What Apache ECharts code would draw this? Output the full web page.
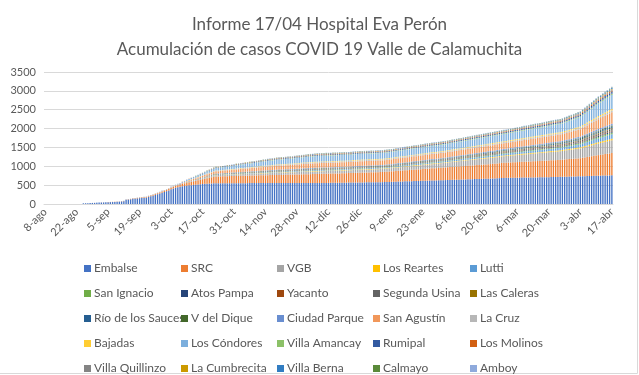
<!DOCTYPE html>
<html>
<head>
<meta charset="utf-8">
<script src="https://cdn.jsdelivr.net/npm/echarts@6/dist/echarts.min.js"></script>
<style>
  html, body { margin: 0; padding: 0; background: #fff; }
  #main { width: 639px; height: 375px; }
</style>
</head>
<body>
<div id="main"></div>
<script>
// dias desde 8-ago hasta 17-abr (253 categorias)
const months = ["ene", "feb", "mar", "abr", "may", "jun", "jul", "ago", "sep", "oct", "nov", "dic"];
const startDate = new Date(2020, 7, 8);
const dayCount = 253;
const categories = [];
for (let i = 0; i < dayCount; i++) {
  const d = new Date(startDate.getFullYear(), startDate.getMonth(), startDate.getDate() + i);
  categories.push(d.getDate() + "-" + months[d.getMonth()]);
}
const yTicks = [0, 500, 1000, 1500, 2000, 2500, 3000, 3500];

const seriesNames = ["Embalse", "SRC", "VGB", "Los Reartes", "Lutti",
  "San Ignacio", "Atos Pampa", "Yacanto", "Segunda Usina", "Las Caleras",
  "Río de los Sauces", "V del Dique", "Ciudad Parque", "San Agustín", "La Cruz",
  "Bajadas", "Los Cóndores", "Villa Amancay", "Rumipal", "Los Molinos",
  "Villa Quillinzo", "La Cumbrecita", "Villa Berna", "Calmayo", "Amboy"];

const colors = ["#4472C4", "#ED7D31", "#A5A5A5", "#FFC000", "#5B9BD5",
  "#70AD47", "#264478", "#9E480E", "#636363", "#997300",
  "#255E91", "#43682B", "#698ED0", "#F1975A", "#B7B7B7",
  "#FFCD33", "#7CAFDD", "#8CC168", "#335AA1", "#D26012",
  "#848484", "#CC9A00", "#327DC2", "#5A8A39", "#8FAADC"];

// casos acumulados por localidad, un valor por dia
const embalse = [0,0,0,0,0,0,0,0,0,0,0,0,0,0,0,0,0,
  18,20,22,25,28,30,34,38,40,42,45,48,50,52,55,58,62,68,72,
  110,118,125,132,140,148,155,160,165,170,
  190,205,220,240,260,280,300,320,340,360,
  390,410,430,445,460,
  470,478,486,494,500,506,512,520,
  526,530,535,539,542,545,548,550,
  550,550,551,551,551,552,552,552,552,553,553,553,553,554,554,554,554,555,555,555,555,555,556,556,556,556,556,556,
  556,556,557,557,557,557,557,557,557,558,558,558,558,558,558,558,558,558,
  559,559,560,560,561,561,562,562,563,564,565,566,567,568,569,570,571,572,573,574,575,576,577,577,578,578,579,580,
  582,584,586,588,590,592,594,596,598,600,602,604,606,608,610,612,614,616,618,620,622,624,625,626,628,630,
  632,634,636,638,640,642,644,646,648,650,652,654,656,658,660,662,664,666,668,670,672,674,676,678,682,686,690,
  692,693,694,695,696,697,698,699,700,701,702,703,704,705,706,707,708,709,710,711,712,714,716,717,718,720,
  722,724,725,727,729,730,732,733,735,
  737,739,740,742,744,746,748,
  750,751,753,755,756,758,760];
const src = [0,0,0,0,0,0,0,0,0,0,0,0,0,0,0,0,0,
  0,0,0,0,1,1,1,1,2,2,2,2,3,3,3,4,4,5,5,
  6,7,8,9,10,11,12,13,14,15,
  17,19,21,23,25,27,29,31,33,35,
  39,43,47,51,55,
  62,69,76,83,90,97,104,110,
  119,128,137,146,155,164,172,180,
  181,183,184,186,187,189,190,191,193,194,196,197,199,200,201,202,203,204,205,206,207,208,209,210,211,212,213,215,
  216,218,219,220,222,223,225,226,227,229,230,231,233,234,235,237,238,240,
  241,242,243,244,245,246,247,248,249,250,251,252,253,254,255,256,257,258,259,260,261,262,263,264,265,266,268,270,
  272,274,276,279,281,283,286,288,290,293,295,297,300,302,304,307,309,311,314,316,318,321,323,325,328,330,
  333,335,338,340,343,345,348,350,353,355,358,360,363,365,368,370,373,375,378,380,383,385,388,390,393,396,400,
  402,404,406,408,410,412,414,416,418,420,422,424,426,428,430,432,434,436,438,440,442,443,445,446,448,450,
  453,457,460,463,466,470,473,476,480,
  488,497,506,514,523,531,540,
  547,554,561,568,576,583,590];
const vgb = [0,0,0,0,0,0,0,0,0,0,0,0,0,0,0,0,0,
  0,0,0,0,0,0,0,0,0,0,0,0,0,0,0,0,0,0,0,
  0,0,0,1,1,1,2,2,2,3,
  3,3,3,4,4,4,4,5,5,5,
  6,6,7,7,8,
  9,10,11,12,12,13,14,15,
  17,20,22,25,27,30,32,35,
  36,37,37,38,39,39,40,41,41,42,43,43,44,45,45,46,47,48,49,50,51,52,53,54,55,56,58,60,
  60,61,61,62,62,63,63,64,64,65,65,66,66,67,67,68,69,70,
  70,70,71,71,71,72,72,72,73,73,73,74,74,74,75,75,75,76,76,76,77,77,78,78,79,79,80,80,
  81,82,84,85,87,88,90,91,93,94,96,97,99,100,102,103,105,106,108,109,111,112,114,115,117,120,
  122,124,126,128,130,132,134,136,138,140,142,144,146,148,150,152,154,155,157,159,161,163,164,166,167,168,170,
  172,174,176,179,181,183,186,188,190,193,195,197,200,202,204,207,209,211,214,216,218,221,223,225,228,230,
  233,236,239,242,246,249,252,256,260,
  265,271,276,282,288,294,300,
  306,312,317,323,329,334,340];
const losReartes = [0,0,0,0,0,0,0,0,0,0,0,0,0,0,0,0,0,0,0,0,0,0,0,0,0,0,0,0,0,0,0,0,0,0,0,0,0,0,0,0,0,0,0,0,0,0,0,0,0,0,0,0,0,0,0,0,0,0,1,1,
  1,1,1,2,2,2,2,3,3,3,3,4,4,4,4,5,5,
  5,5,5,6,6,6,6,6,7,7,7,7,7,8,8,8,8,8,8,9,9,9,9,9,10,10,10,10,
  10,10,10,10,11,11,11,11,11,11,11,11,12,12,12,12,12,12,
  12,12,12,12,12,12,12,12,12,12,12,12,12,12,13,13,13,13,13,13,13,13,13,13,13,13,13,13,
  13,13,13,13,14,14,14,14,14,14,14,15,15,15,15,15,15,15,15,16,16,16,16,16,16,16,
  16,16,16,17,17,17,17,17,17,17,18,18,18,18,18,18,18,19,19,19,19,19,19,19,20,20,20,
  20,20,21,21,21,21,22,22,22,22,23,23,23,23,24,24,24,24,25,25,25,25,25,26,26,26,
  26,27,27,28,28,29,29,30,30,
  31,32,32,33,34,34,35,
  36,37,37,38,39,39,40];
const lutti = [0,0,0,0,0,0,0,0,0,0,0,0,0,0,0,0,0,0,0,0,0,0,0,0,0,0,0,0,0,0,0,0,0,0,0,0,0,0,0,0,0,0,0,0,0,0,0,0,0,0,0,0,0,0,0,0,0,0,1,1,
  1,1,2,2,3,3,4,4,5,5,6,6,7,7,7,8,8,
  8,8,9,9,9,10,10,10,11,11,11,12,12,12,13,13,13,14,14,14,14,15,15,15,15,16,16,16,
  16,16,17,17,17,17,18,18,18,18,19,19,19,19,20,20,20,20,
  20,20,20,20,20,20,20,21,21,21,21,21,21,21,21,21,21,22,22,22,22,22,22,22,22,22,22,22,
  22,23,23,23,24,24,24,25,25,25,26,26,26,27,27,27,28,28,28,28,29,29,29,29,30,30,
  31,31,32,32,33,33,34,34,35,35,36,36,37,37,38,38,39,39,40,40,41,41,42,42,43,44,45,
  46,47,47,48,49,50,50,51,52,53,53,54,55,56,56,57,58,59,59,60,61,62,62,63,64,65,
  67,68,70,72,73,75,77,78,80,
  83,86,89,92,95,97,100,
  103,106,109,112,115,117,120];
const sanIgnacio = [0,0,0,0,0,0,0,0,0,0,0,0,0,0,0,0,0,0,0,0,0,0,0,0,0,0,0,0,0,0,0,0,0,0,0,0,0,0,0,0,0,0,0,0,0,0,0,0,0,0,0,0,0,0,0,0,0,0,0,0,
  0,0,0,1,1,1,1,1,2,2,2,2,2,2,3,3,3,
  3,3,3,3,4,4,4,4,4,4,5,5,5,5,5,5,6,6,6,6,6,6,7,7,7,7,7,7,
  7,7,7,7,7,7,7,7,7,8,8,8,8,8,8,8,8,8,
  8,8,8,8,8,8,8,8,8,8,8,8,8,8,9,9,9,9,9,9,9,9,9,9,9,9,9,9,
  9,9,9,9,9,10,10,10,10,10,10,10,11,11,11,11,11,11,11,12,12,12,12,12,12,12,
  12,12,12,13,13,13,13,13,13,14,14,14,14,14,14,15,15,15,15,15,16,16,16,16,17,17,17,
  17,17,18,18,18,18,19,19,19,19,20,20,20,20,21,21,21,22,22,22,23,23,23,24,24,24,
  24,25,25,26,26,27,27,28,28,
  29,30,31,32,32,33,34,
  35,36,37,38,38,39,40];
const atosPampa = [0,0,0,0,0,0,0,0,0,0,0,0,0,0,0,0,0,0,0,0,0,0,0,0,0,0,0,0,0,0,0,0,0,0,0,0,0,0,0,0,0,0,0,0,0,0,0,0,0,0,0,0,0,0,0,0,0,0,0,0,
  0,0,0,0,1,1,1,1,1,2,2,2,2,2,3,3,3,
  3,3,3,3,3,3,3,3,4,4,4,4,4,4,4,4,4,4,5,5,5,5,5,5,5,5,5,5,
  5,5,5,5,5,5,5,5,6,6,6,6,6,6,6,6,6,6,
  6,6,6,6,6,6,6,6,6,6,6,6,6,6,6,6,6,6,6,6,6,6,6,6,6,6,6,6,
  6,6,6,6,6,6,7,7,7,7,7,7,7,7,7,7,8,8,8,8,8,8,8,8,8,8,
  8,8,8,8,8,9,9,9,9,9,9,10,10,10,10,10,10,11,11,11,11,11,12,12,12,12,12,
  12,12,12,13,13,13,13,13,14,14,14,14,14,15,15,15,15,15,16,16,16,16,17,17,17,17,
  17,18,18,18,19,19,19,20,20,
  21,22,22,23,24,24,25,
  26,27,27,28,29,29,30];
const yacanto = [0,0,0,0,0,0,0,0,0,0,0,0,0,0,0,0,0,0,0,0,0,0,0,0,0,0,0,0,0,0,0,0,0,0,0,0,0,0,0,0,0,0,0,0,0,0,0,0,0,0,0,0,0,0,0,0,0,0,0,0,
  0,0,0,0,0,0,1,1,1,1,1,1,2,2,2,2,2,
  2,2,2,2,2,2,2,2,3,3,3,3,3,3,3,3,3,3,4,4,4,4,4,4,4,4,4,4,
  4,4,4,4,4,4,4,4,5,5,5,5,5,5,5,5,5,5,
  5,5,5,5,5,5,5,5,5,5,5,5,5,5,5,5,5,5,5,5,5,5,5,5,5,5,5,5,
  5,5,5,5,5,5,5,5,5,5,5,5,5,6,6,6,6,6,6,6,6,6,6,6,6,6,
  6,6,6,6,6,6,7,7,7,7,7,7,7,8,8,8,8,8,8,8,9,9,9,9,9,9,9,
  9,9,9,9,9,10,10,10,10,10,10,10,11,11,11,11,11,11,11,12,12,12,12,12,12,12,
  12,12,13,13,13,13,14,14,14,
  15,15,16,16,16,17,17,
  18,18,19,19,19,20,20];
const segundaUsina = [0,0,0,0,0,0,0,0,0,0,0,0,0,0,0,0,0,0,0,0,0,0,0,0,0,0,0,0,0,0,0,0,0,0,0,0,0,0,0,0,0,0,0,0,0,0,0,0,0,0,0,0,0,0,0,0,0,0,0,1,
  1,1,1,2,2,2,3,3,3,4,4,4,5,5,5,6,6,
  6,6,6,6,6,6,7,7,7,7,7,7,8,8,8,8,8,8,9,9,9,9,9,10,10,10,10,10,
  10,10,10,10,10,10,11,11,11,11,11,11,12,12,12,12,12,12,
  12,12,12,12,12,12,12,12,12,12,12,12,12,12,13,13,13,13,13,13,13,13,13,13,13,13,13,13,
  13,13,13,13,13,14,14,14,14,14,14,14,15,15,15,15,15,15,15,16,16,16,16,17,17,17,
  17,17,18,18,18,18,19,19,19,19,20,20,20,20,21,21,21,21,22,22,22,23,23,23,24,24,24,
  24,24,25,25,25,26,26,26,27,27,27,28,28,28,29,29,29,30,30,30,31,31,31,32,32,32,
  32,33,33,34,34,35,36,36,37,
  38,39,40,41,42,43,44,
  45,46,47,48,48,49,50];
const lasCaleras = [0,0,0,0,0,0,0,0,0,0,0,0,0,0,0,0,0,0,0,0,0,0,0,0,0,0,0,0,0,0,0,0,0,0,0,0,0,0,0,0,0,0,0,0,0,0,0,0,0,0,0,0,0,0,0,0,0,0,0,0,
  0,0,0,0,0,0,0,1,1,1,1,1,1,2,2,2,2,
  2,2,2,2,2,2,2,2,3,3,3,3,3,3,3,3,3,3,4,4,4,4,4,4,4,4,4,4,
  4,4,4,4,4,4,4,4,4,5,5,5,5,5,5,5,5,5,
  5,5,5,5,5,5,5,5,5,5,5,5,5,5,5,5,5,5,5,5,5,5,5,5,5,5,5,5,
  5,5,5,5,5,5,6,6,6,6,6,6,6,6,6,6,7,7,7,7,7,7,7,7,7,7,
  7,7,7,7,7,7,8,8,8,8,8,8,8,9,9,9,9,9,9,9,10,10,10,10,10,10,10,
  10,10,10,10,10,11,11,11,11,11,11,11,12,12,12,12,12,12,12,13,13,13,13,13,13,13,
  13,13,14,14,14,14,15,15,15,
  15,16,16,17,17,18,18,
  18,19,19,19,20,20,20];
const rioSauces = [0,0,0,0,0,0,0,0,0,0,0,0,0,0,0,0,0,0,0,0,0,0,0,0,0,0,0,0,0,0,0,0,0,0,0,0,0,0,0,0,0,0,0,0,0,0,0,0,0,0,0,0,0,0,0,0,0,0,0,1,
  1,1,1,1,2,2,2,2,2,3,3,3,3,3,4,4,4,
  4,4,4,4,4,4,5,5,5,5,5,5,5,5,6,6,6,6,6,6,6,6,7,7,7,7,7,7,
  7,7,7,7,7,7,7,7,7,8,8,8,8,8,8,8,8,8,
  8,8,8,8,8,8,8,8,8,8,8,8,8,8,9,9,9,9,9,9,9,9,9,9,9,9,9,9,
  9,9,9,9,9,10,10,10,10,10,10,10,11,11,11,11,11,11,11,12,12,12,12,12,12,12,
  12,12,12,13,13,13,13,14,14,14,14,15,15,15,15,16,16,16,16,17,17,17,17,18,18,18,18,
  18,18,19,19,19,20,20,20,20,21,21,21,21,22,22,22,22,23,23,23,24,24,24,25,25,25,
  25,26,26,27,28,28,29,29,30,
  31,31,32,33,33,34,35,
  36,36,37,38,38,39,40];
const vDique = [0,0,0,0,0,0,0,0,0,0,0,0,0,0,0,0,0,0,0,0,0,0,0,0,0,0,0,0,0,0,0,0,0,0,0,0,0,0,0,0,0,0,0,0,0,0,0,0,0,0,0,0,0,0,0,0,0,0,0,0,
  0,0,0,0,1,1,1,1,1,2,2,2,2,2,3,3,3,
  3,3,3,3,3,3,3,3,4,4,4,4,4,4,4,4,4,4,5,5,5,5,5,5,5,5,5,5,
  5,5,5,5,5,5,5,5,6,6,6,6,6,6,6,6,6,6,
  6,6,6,6,6,6,6,6,6,6,6,6,6,6,6,6,6,6,6,6,6,6,6,6,6,6,6,6,
  6,6,6,6,6,6,7,7,7,7,7,7,7,7,7,7,8,8,8,8,8,8,8,8,8,8,
  8,8,8,8,8,9,9,9,9,9,9,10,10,10,10,10,10,11,11,11,11,11,12,12,12,12,12,
  12,12,13,13,13,13,14,14,14,14,15,15,15,15,16,16,16,16,17,17,17,17,18,18,18,18,
  18,19,19,20,20,21,21,22,22,
  23,23,24,24,25,25,26,
  27,27,28,28,29,29,30];
const ciudadParque = [0,0,0,0,0,0,0,0,0,0,0,0,0,0,0,0,0,0,0,0,0,0,0,0,0,0,0,0,0,0,0,0,0,0,0,0,0,0,0,0,0,0,0,0,0,0,0,0,0,0,0,0,0,0,0,0,0,0,0,1,
  1,1,2,2,2,3,3,3,4,4,4,5,5,6,6,7,7,
  7,7,7,7,8,8,8,8,9,9,9,9,10,10,10,10,11,11,11,11,12,12,12,12,13,13,13,13,
  13,13,13,13,13,13,14,14,14,14,14,14,15,15,15,15,15,15,
  15,15,15,15,15,15,15,15,15,15,15,15,15,15,16,16,16,16,16,16,16,16,16,16,16,16,16,16,
  16,16,16,16,16,17,17,17,17,17,17,18,18,18,18,18,19,19,19,19,19,20,20,20,20,20,
  20,20,20,21,21,21,21,22,22,22,22,23,23,23,23,24,24,24,24,25,25,25,25,26,26,26,26,
  26,26,27,27,27,28,28,28,29,29,29,30,30,30,31,31,31,32,32,32,33,33,33,34,34,34,
  34,35,35,36,36,37,37,38,38,
  39,40,41,42,42,43,44,
  45,46,47,48,48,49,50];
const sanAgustin = [0,0,0,0,0,0,0,0,0,0,0,0,0,0,0,0,0,
  0,0,0,0,0,1,1,1,1,1,1,2,2,2,2,2,2,2,3,3,3,3,3,3,4,4,4,4,4,5,5,5,5,6,6,6,7,7,8,8,9,10,11,
  12,15,18,21,24,27,30,33,36,39,42,45,48,51,54,57,60,
  61,63,65,66,68,70,71,73,75,76,78,80,81,83,85,86,88,90,91,93,95,96,98,100,101,102,104,105,
  106,107,108,109,110,111,112,112,113,114,115,115,116,117,118,118,119,120,
  120,120,120,120,121,121,121,121,121,121,122,122,122,122,122,122,122,123,123,123,123,123,123,123,124,124,124,124,
  124,125,125,126,126,127,127,128,128,128,129,129,130,130,130,131,131,132,132,132,133,133,134,134,135,135,
  136,136,137,138,138,139,139,140,141,141,142,142,143,144,144,145,145,146,146,147,147,148,148,149,149,150,150,
  151,152,153,154,155,156,157,158,159,160,161,162,163,164,165,166,167,168,169,170,171,172,173,173,174,175,
  177,179,181,184,186,188,190,193,195,
  203,211,219,227,235,242,250,
  257,264,271,279,286,293,300];
const laCruz = [0,0,0,0,0,0,0,0,0,0,0,0,0,0,0,0,0,
  0,0,0,0,0,0,0,0,0,0,0,0,0,0,0,1,1,1,1,1,1,1,1,1,1,1,1,1,1,1,2,2,2,2,2,2,2,2,2,2,3,3,3,
  3,4,4,5,5,6,6,7,8,8,9,9,10,11,11,12,13,
  13,13,14,14,14,15,15,15,16,16,16,17,17,17,18,18,18,19,19,19,20,20,20,21,21,21,22,22,
  22,22,22,22,22,22,23,23,23,23,23,23,24,24,24,25,25,25,
  25,25,25,25,25,25,25,25,25,25,25,25,25,25,26,26,26,26,26,26,26,26,26,26,26,26,26,26,
  26,26,26,26,26,26,26,26,27,27,27,27,27,27,27,27,27,28,28,28,28,28,28,28,28,28,
  28,28,28,29,29,29,29,29,29,30,30,30,30,30,30,31,31,31,31,31,31,32,32,32,32,32,32,
  32,32,33,33,33,33,33,33,34,34,34,34,34,34,35,35,35,35,35,35,36,36,36,36,36,36,
  36,37,37,38,38,39,39,40,40,
  41,41,42,43,43,44,45,
  46,46,47,48,48,49,50];
const bajadas = [0,0,0,0,0,0,0,0,0,0,0,0,0,0,0,0,0,0,0,0,0,0,0,0,0,0,0,0,0,0,0,0,0,0,0,0,0,0,0,0,0,0,0,0,0,0,0,0,0,0,0,0,0,0,0,0,0,0,0,1,
  1,1,2,2,2,3,3,3,4,4,4,5,5,5,6,6,6,
  6,6,6,7,7,7,7,7,8,8,8,8,8,9,9,9,9,9,10,10,10,10,11,11,11,12,12,12,
  12,12,12,12,12,12,13,13,13,13,14,14,14,14,15,15,15,15,
  15,15,15,15,15,15,15,15,15,15,15,15,15,15,16,16,16,16,16,16,16,16,16,16,16,16,16,16,
  16,16,16,16,16,16,16,16,16,17,17,17,17,17,17,17,17,17,18,18,18,18,18,18,18,18,
  18,18,18,19,19,19,19,19,19,20,20,20,20,20,20,21,21,21,21,21,21,22,22,22,22,22,22,
  22,22,23,23,23,23,23,23,24,24,24,24,24,24,25,25,25,25,25,25,26,26,26,26,26,26,
  26,27,27,28,28,29,29,30,30,
  31,31,32,33,33,34,35,
  36,36,37,38,38,39,40];
const losCondores = [0,0,0,0,0,0,0,0,0,0,0,0,0,0,0,0,0,
  0,0,0,0,0,0,1,1,1,1,1,1,1,2,2,2,2,2,2,3,3,3,3,3,4,4,4,4,5,5,5,5,6,6,6,7,7,8,8,9,10,11,11,
  12,16,19,23,26,30,34,38,41,45,48,52,56,59,63,66,70,
  72,74,76,78,80,82,84,86,88,90,92,94,96,98,100,102,104,106,108,110,112,114,116,118,120,123,126,128,
  129,130,132,133,134,135,137,138,139,140,141,143,144,145,146,147,149,150,
  150,150,150,151,151,151,151,151,152,152,152,152,152,153,153,153,153,153,153,154,154,154,154,154,154,155,155,155,
  155,156,156,157,157,158,158,159,160,160,161,161,162,163,163,164,164,165,166,166,167,167,168,169,169,170,
  171,171,172,173,174,174,175,176,177,178,178,179,180,181,182,182,183,184,185,186,186,187,188,189,189,190,190,
  191,192,193,194,195,196,197,198,199,200,201,202,203,204,205,206,207,208,209,210,211,213,215,216,218,220,
  223,227,230,233,237,240,243,247,250,
  260,270,280,290,300,310,320,
  327,334,341,349,356,363,370];
const villaAmancay = [0,0,0,0,0,0,0,0,0,0,0,0,0,0,0,0,0,0,0,0,0,0,0,0,0,0,0,0,0,0,0,0,0,0,0,0,0,0,0,0,0,0,0,0,0,0,0,0,0,0,0,0,0,0,0,0,0,0,0,1,
  1,1,1,2,2,2,2,3,3,3,3,4,4,4,4,5,5,
  5,5,5,5,6,6,6,6,6,7,7,7,7,7,8,8,8,8,8,9,9,9,9,9,10,10,10,10,
  10,10,10,10,10,10,11,11,11,11,11,11,12,12,12,12,12,12,
  12,12,12,12,12,12,12,12,12,12,12,12,12,12,12,12,12,12,12,12,12,12,12,12,12,12,12,12,
  12,12,12,12,12,12,12,12,13,13,13,13,13,13,13,13,13,14,14,14,14,14,14,14,14,14,
  14,14,14,14,14,14,15,15,15,15,15,15,15,16,16,16,16,16,16,16,17,17,17,17,17,17,17,
  17,17,17,17,17,18,18,18,18,18,18,18,19,19,19,19,19,19,19,20,20,20,20,20,20,20,
  20,20,21,21,21,21,22,22,22,
  23,23,24,24,25,25,26,
  27,27,28,28,29,29,30];
const rumipal = [0,0,0,0,0,0,0,0,0,0,0,0,0,0,0,0,0,
  0,0,0,0,0,0,0,0,0,0,0,0,0,0,0,0,0,0,0,0,1,1,1,1,1,1,1,1,1,1,1,1,1,1,1,1,1,1,1,1,2,2,2,
  2,3,3,4,4,5,5,6,6,7,7,8,8,9,9,10,10,
  10,10,10,10,11,11,11,11,12,12,12,12,13,13,13,13,14,14,14,15,15,15,16,16,16,17,17,17,
  17,17,17,17,17,17,18,18,18,18,19,19,19,19,20,20,20,20,
  20,20,20,20,20,20,20,20,20,20,20,20,20,20,21,21,21,21,21,21,21,21,21,21,21,21,21,21,
  21,21,21,21,22,22,22,22,22,22,23,23,23,23,23,23,24,24,24,24,24,25,25,25,25,25,
  25,25,25,26,26,26,26,26,27,27,27,27,27,28,28,28,28,28,29,29,29,29,29,30,30,30,30,
  30,30,31,31,31,32,32,32,33,33,33,34,34,34,35,35,35,35,36,36,36,36,37,37,37,37,
  37,38,38,39,39,40,41,41,42,
  43,45,46,48,49,51,52,
  53,54,55,57,58,59,60];
const losMolinos = [0,0,0,0,0,0,0,0,0,0,0,0,0,0,0,0,0,0,0,0,0,0,0,0,0,0,0,0,0,0,0,0,0,0,0,0,0,0,0,0,0,0,0,0,0,0,0,0,0,0,0,0,0,0,0,0,0,0,0,1,
  1,1,1,1,1,2,2,2,2,3,3,3,3,4,4,4,4,
  4,4,4,4,5,5,5,5,5,5,6,6,6,6,6,6,7,7,7,7,7,7,8,8,8,8,8,8,
  8,8,8,8,8,8,9,9,9,9,9,9,10,10,10,10,10,10,
  10,10,10,10,10,10,10,10,10,10,10,10,10,10,10,10,10,10,10,10,10,10,10,10,10,10,10,10,
  10,10,10,10,10,10,10,10,11,11,11,11,11,11,11,11,11,12,12,12,12,12,12,12,12,12,
  12,12,12,12,12,12,13,13,13,13,13,13,13,14,14,14,14,14,14,14,15,15,15,15,15,15,15,
  15,15,15,15,15,16,16,16,16,16,16,16,17,17,17,17,17,17,17,18,18,18,18,18,18,18,
  18,19,19,19,20,20,20,21,21,
  22,22,23,24,24,25,26,
  26,27,27,28,29,29,30];
const villaQuillinzo = [0,0,0,0,0,0,0,0,0,0,0,0,0,0,0,0,0,0,0,0,0,0,0,0,0,0,0,0,0,0,0,0,0,0,0,0,0,0,0,0,0,0,0,0,0,0,0,0,0,0,0,0,0,0,0,0,0,0,0,0,
  0,0,0,0,1,1,1,1,1,2,2,2,2,2,3,3,3,
  3,3,3,3,3,3,3,4,4,4,4,4,4,4,5,5,5,5,5,5,5,6,6,6,6,6,6,6,
  6,6,6,6,6,6,7,7,7,7,7,7,8,8,8,8,8,8,
  8,8,8,8,8,8,8,8,8,8,8,8,8,8,8,8,8,8,8,8,8,8,8,8,8,8,8,8,
  8,8,8,8,8,8,8,8,9,9,9,9,9,9,9,9,9,10,10,10,10,10,10,10,10,10,
  10,10,10,10,10,10,10,10,10,11,11,11,11,11,11,11,11,11,12,12,12,12,12,12,12,12,12,
  12,12,12,12,12,12,12,12,12,13,13,13,13,13,13,13,13,13,14,14,14,14,14,14,14,14,
  14,15,15,15,16,16,16,17,17,
  18,18,19,19,20,20,21,
  22,22,23,23,24,24,25];
const laCumbrecita = [0,0,0,0,0,0,0,0,0,0,0,0,0,0,0,0,0,0,0,0,0,0,0,0,0,0,0,0,0,0,0,0,0,0,0,0,0,0,0,0,0,0,0,0,0,0,0,0,0,0,0,0,0,0,0,0,0,0,0,0,
  0,0,0,0,0,0,1,1,1,1,1,1,2,2,2,2,2,
  2,2,2,2,2,2,2,2,2,3,3,3,3,3,3,3,3,3,3,4,4,4,4,4,4,4,4,4,
  4,4,4,4,4,4,4,4,4,5,5,5,5,5,5,5,5,5,
  5,5,5,5,5,5,5,5,5,5,5,5,5,5,5,5,5,5,5,5,5,5,5,5,5,5,5,5,
  5,5,5,5,5,5,5,5,5,5,5,5,5,6,6,6,6,6,6,6,6,6,6,6,6,6,
  6,6,6,6,6,6,6,6,6,6,6,6,6,6,7,7,7,7,7,7,7,7,7,7,7,7,7,
  7,7,7,7,7,7,7,7,7,8,8,8,8,8,8,8,8,8,9,9,9,9,9,9,9,9,
  9,9,9,9,10,10,10,10,10,
  10,11,11,11,12,12,12,
  13,13,14,14,14,15,15];
const villaBerna = [0,0,0,0,0,0,0,0,0,0,0,0,0,0,0,0,0,0,0,0,0,0,0,0,0,0,0,0,0,0,0,0,0,0,0,0,0,0,0,0,0,0,0,0,0,0,0,0,0,0,0,0,0,0,0,0,0,0,0,0,
  0,0,0,0,0,1,1,1,1,2,2,2,2,3,3,3,3,
  3,3,3,3,3,3,3,4,4,4,4,4,4,4,5,5,5,5,5,5,5,6,6,6,6,6,6,6,
  6,6,6,6,6,6,7,7,7,7,7,7,8,8,8,8,8,8,
  8,8,8,8,8,8,8,8,8,8,8,8,8,8,8,8,8,8,8,8,8,8,8,8,8,8,8,8,
  8,8,8,8,8,8,8,8,9,9,9,9,9,9,9,9,9,10,10,10,10,10,10,10,10,10,
  10,10,10,10,10,10,10,10,10,11,11,11,11,11,11,11,11,11,12,12,12,12,12,12,12,12,12,
  12,12,12,12,12,13,13,13,13,13,13,13,14,14,14,14,14,14,14,15,15,15,15,15,15,15,
  15,15,16,16,16,16,17,17,17,
  18,18,19,19,20,20,21,
  22,22,23,23,24,24,25];
const calmayo = [0,0,0,0,0,0,0,0,0,0,0,0,0,0,0,0,0,0,0,0,0,0,0,0,0,0,0,0,0,0,0,0,0,0,0,0,0,0,0,0,0,0,0,0,0,0,0,0,0,0,0,0,0,0,0,0,0,0,0,0,
  0,0,0,0,0,0,0,1,1,1,1,1,2,2,2,2,2,
  2,2,2,2,2,2,2,2,3,3,3,3,3,3,3,3,3,3,4,4,4,4,4,4,4,4,4,4,
  4,4,4,4,4,4,4,4,5,5,5,5,5,5,5,5,5,5,
  5,5,5,5,5,5,5,5,5,5,5,5,5,5,5,5,5,5,5,5,5,5,5,5,5,5,5,5,
  5,5,5,5,5,5,5,5,5,5,5,5,6,6,6,6,6,6,6,6,6,6,6,6,6,6,
  6,6,6,6,6,6,6,6,6,6,6,6,7,7,7,7,7,7,7,7,7,7,7,7,7,7,7,
  7,7,7,7,7,7,7,7,8,8,8,8,8,8,8,8,8,9,9,9,9,9,9,9,9,9,
  9,9,9,10,10,10,10,10,10,
  11,11,11,12,12,12,12,
  13,13,13,14,14,15,15];
const amboy = [0,0,0,0,0,0,0,0,0,0,0,0,0,0,0,0,0,0,0,0,0,0,0,0,0,0,0,0,0,0,0,0,0,0,0,0,0,0,0,0,0,0,0,0,0,0,0,0,0,0,0,0,0,0,0,0,0,0,0,0,
  0,0,0,0,0,0,1,1,1,1,1,1,2,2,2,2,2,
  2,2,2,2,2,3,3,3,3,3,3,3,3,4,4,4,4,4,4,4,4,5,5,5,5,5,5,5,
  5,5,5,5,5,5,6,6,6,6,6,6,7,7,7,7,7,7,
  7,7,7,7,7,7,7,7,7,7,7,7,7,7,7,7,7,7,7,7,7,7,7,7,7,7,7,7,
  7,7,7,7,7,7,7,7,7,7,7,7,7,8,8,8,8,8,8,8,8,8,8,8,8,8,
  8,8,8,8,8,8,8,8,8,9,9,9,9,9,9,9,9,9,10,10,10,10,10,10,10,10,10,
  10,10,10,10,10,10,10,10,10,11,11,11,11,11,11,11,11,11,12,12,12,12,12,12,12,12,
  12,12,13,13,13,13,14,14,14,
  15,15,16,16,16,17,17,
  18,18,19,19,19,20,20];

const seriesData = [embalse, src, vgb, losReartes, lutti, sanIgnacio, atosPampa, yacanto,
  segundaUsina, lasCaleras, rioSauces, vDique, ciudadParque, sanAgustin, laCruz,
  bajadas, losCondores, villaAmancay, rumipal, losMolinos, villaQuillinzo,
  laCumbrecita, villaBerna, calmayo, amboy];

const font = "Lato, 'Open Sans', sans-serif";
const textColor = "#595959";

const chart = echarts.init(document.getElementById("main"), null, { renderer: "canvas" });

// leyenda en 5 columnas
const legendX = [79, 176, 272, 368, 465];
const legends = legendX.map((x, col) => ({
  orient: "vertical",
  left: x,
  top: 256,
  height: 130,
  itemWidth: 7,
  itemHeight: 7,
  itemGap: 10,
  icon: "rect",
  selectedMode: false,
  textStyle: { color: textColor, fontFamily: font, fontSize: 12, lineHeight: 15, padding: [0, 0, 0, -2] },
  data: seriesNames.filter((n, i) => i % 5 === col)
}));

const option = {
  animation: false,
  color: colors,
  title: {
    text: "Informe 17/04 Hospital Eva Perón\nAcumulación de casos COVID 19 Valle de Calamuchita",
    left: "center",
    top: 7,
    textStyle: { color: textColor, fontFamily: font, fontSize: 17, fontWeight: "normal", lineHeight: 25 }
  },
  legend: legends,
  grid: { left: 44, right: 26, top: 72, height: 132, containLabel: false },
  xAxis: {
    type: "category",
    data: categories,
    boundaryGap: true,
    axisLine: { lineStyle: { color: "#D9D9D9" } },
    axisTick: { alignWithLabel: true, interval: 13, length: 4, lineStyle: { color: "#D9D9D9" } },
    axisLabel: { interval: 13, rotate: 45, color: textColor, fontFamily: font, fontSize: 11, margin: 6 }
  },
  yAxis: {
    type: "value",
    min: yTicks[0],
    max: yTicks[yTicks.length - 1],
    interval: yTicks[1] - yTicks[0],
    axisLine: { show: false },
    axisTick: { show: false },
    splitLine: { lineStyle: { color: "#D9D9D9" } },
    axisLabel: { color: textColor, fontFamily: font, fontSize: 11, margin: 8, formatter: (v) => String(v) }
  },
  series: seriesNames.map((name, i) => ({
    name: name,
    type: "bar",
    stack: "total",
    data: seriesData[i],
    barCategoryGap: "40%",
    itemStyle: { color: colors[i] }
  })),
  graphic: [
    { type: "line", shape: { x1: 637.5, y1: 0, x2: 637.5, y2: 373.5 }, style: { stroke: "#D9D9D9", lineWidth: 1 } },
    { type: "line", shape: { x1: 0, y1: 373.5, x2: 637.5, y2: 373.5 }, style: { stroke: "#D9D9D9", lineWidth: 1 } }
  ]
};

chart.setOption(option);
</script>
</body>
</html>
